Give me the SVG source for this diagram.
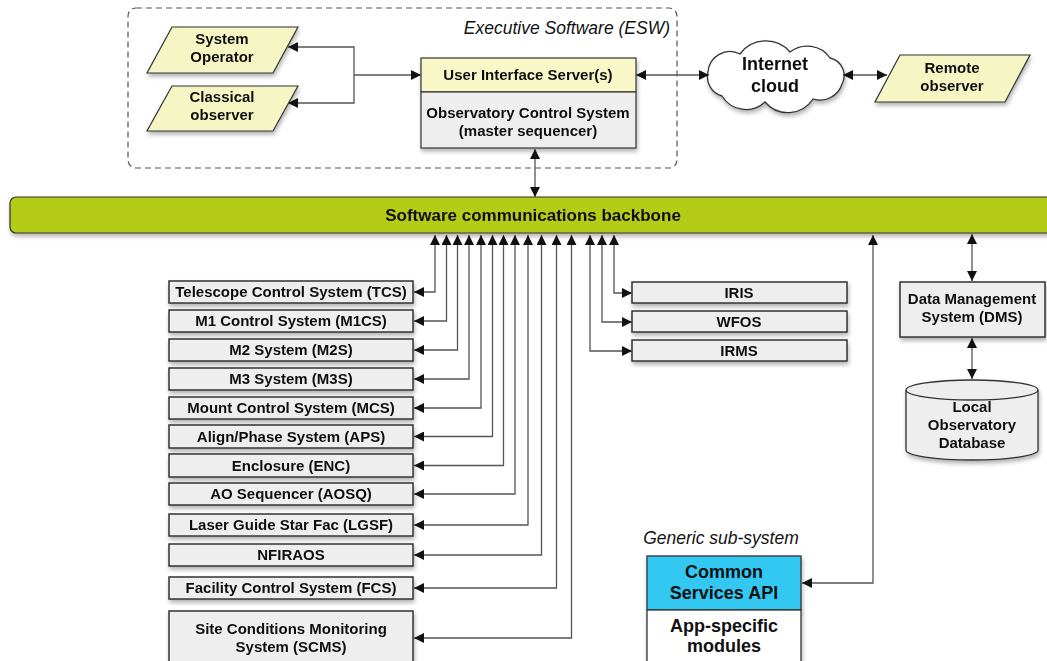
<svg xmlns="http://www.w3.org/2000/svg" width="1047" height="661" viewBox="0 0 1047 661">
<defs>
<style>
text{font-family:"Liberation Sans",Arial,sans-serif;font-weight:bold;fill:#111;text-anchor:middle}
.lbl{font-size:15px}
.big{font-size:18px}
.it{font-weight:normal;font-style:italic;font-size:17.5px}
.box{fill:#eeeeee;stroke:#333;stroke-width:1.5}
.yel{fill:#f6f6c4;stroke:#333;stroke-width:1.2}
.con{fill:none;stroke:#555;stroke-width:1.3}
</style>
<marker id="ah" viewBox="0 0 10 10" refX="10" refY="5" markerWidth="10" markerHeight="10" markerUnits="userSpaceOnUse" orient="auto-start-reverse">
<path d="M0,0 L10,5 L0,10 Z" fill="#111"/>
</marker>
<filter id="sh" x="-10%" y="-10%" width="130%" height="140%">
<feDropShadow dx="1" dy="3" stdDeviation="2" flood-color="#000" flood-opacity="0.3"/>
</filter>
</defs>
<rect width="1047" height="661" fill="#fff"/>

<g id="esw">
<rect x="128" y="8" width="549" height="160" rx="8" fill="none" stroke="#555" stroke-width="1.2" stroke-dasharray="6,4"/>
<text class="it" x="670" y="34" style="text-anchor:end">Executive Software (ESW)</text>
</g>

<g id="system-operator" filter="url(#sh)">
<polygon class="yel" points="172,27 298,27 273,73 147,73"/>
<text class="lbl" x="222" y="44">System</text>
<text class="lbl" x="222" y="62">Operator</text>
</g>
<g id="classical-observer" filter="url(#sh)">
<polygon class="yel" points="172,86 298,86 273,131 147,131"/>
<text class="lbl" x="222" y="102">Classical</text>
<text class="lbl" x="222" y="120">observer</text>
</g>

<g id="ocs" filter="url(#sh)">
<rect x="421" y="58" width="215" height="34" fill="#f7f7c8" stroke="#333" stroke-width="1.2"/>
<rect x="421" y="92" width="215" height="56" fill="#eeeeee" stroke="#333" stroke-width="1.2"/>
<text class="lbl" x="528" y="80">User Interface Server(s)</text>
<text class="lbl" x="528" y="118">Observatory Control System</text>
<text class="lbl" x="528" y="136">(master sequencer)</text>
</g>

<g id="internet-cloud" filter="url(#sh)">
<path d="M708,72 A22,22 0 0 1 740,54 A32,32 0 0 1 790,52 A28,28 0 0 1 830,58 A18,18 0 0 1 842,84 A23,23 0 0 1 813,99 A30,30 0 0 1 765,102 A28,28 0 0 1 722,96 A20,20 0 0 1 708,72 Z" fill="#fff" stroke="#333" stroke-width="1.3"/>
<text class="big" x="775" y="70">Internet</text>
<text class="big" x="775" y="92">cloud</text>
</g>

<g id="remote-observer" filter="url(#sh)">
<polygon class="yel" points="900,55 1030,55 1005,102 875,102"/>
<text class="lbl" x="952" y="73">Remote</text>
<text class="lbl" x="952" y="91">observer</text>
</g>

<g id="backbone" filter="url(#sh)">
<rect x="10" y="197" width="1050" height="36" rx="6" fill="#b5cc18" stroke="#333" stroke-width="1.2"/>
<text x="533" y="221" style="font-size:17px">Software communications backbone</text>
</g>

<g id="tcs" filter="url(#sh)"><rect class="box" x="169" y="281" width="244" height="22"/><text class="lbl" x="291" y="297">Telescope Control System (TCS)</text></g>
<g id="m1cs" filter="url(#sh)"><rect class="box" x="169" y="310" width="244" height="22"/><text class="lbl" x="291" y="326">M1 Control System (M1CS)</text></g>
<g id="m2s" filter="url(#sh)"><rect class="box" x="169" y="339" width="244" height="22"/><text class="lbl" x="291" y="355">M2 System (M2S)</text></g>
<g id="m3s" filter="url(#sh)"><rect class="box" x="169" y="368" width="244" height="22"/><text class="lbl" x="291" y="384">M3 System (M3S)</text></g>
<g id="mcs" filter="url(#sh)"><rect class="box" x="169" y="397" width="244" height="22"/><text class="lbl" x="291" y="413">Mount Control System (MCS)</text></g>
<g id="aps" filter="url(#sh)"><rect class="box" x="169" y="425" width="244" height="23"/><text class="lbl" x="291" y="442">Align/Phase System (APS)</text></g>
<g id="enc" filter="url(#sh)"><rect class="box" x="169" y="454" width="244" height="23"/><text class="lbl" x="291" y="471">Enclosure (ENC)</text></g>
<g id="aosq" filter="url(#sh)"><rect class="box" x="169" y="483" width="244" height="22"/><text class="lbl" x="291" y="499">AO Sequencer (AOSQ)</text></g>
<g id="lgsf" filter="url(#sh)"><rect class="box" x="169" y="514" width="244" height="22"/><text class="lbl" x="291" y="530">Laser Guide Star Fac (LGSF)</text></g>
<g id="nfiraos" filter="url(#sh)"><rect class="box" x="169" y="544" width="244" height="22"/><text class="lbl" x="291" y="560">NFIRAOS</text></g>
<g id="fcs" filter="url(#sh)"><rect class="box" x="169" y="577" width="244" height="22"/><text class="lbl" x="291" y="593">Facility Control System (FCS)</text></g>
<g id="scms" filter="url(#sh)"><rect class="box" x="169" y="611" width="244" height="60"/><text class="lbl" x="291" y="634">Site Conditions Monitoring</text><text class="lbl" x="291" y="652">System  (SCMS)</text></g>

<g id="iris" filter="url(#sh)"><rect class="box" x="632" y="282" width="215" height="21"/><text class="lbl" x="739" y="298">IRIS</text></g>
<g id="wfos" filter="url(#sh)"><rect class="box" x="632" y="311" width="215" height="21"/><text class="lbl" x="739" y="327">WFOS</text></g>
<g id="irms" filter="url(#sh)"><rect class="box" x="632" y="340" width="215" height="21"/><text class="lbl" x="739" y="356">IRMS</text></g>

<g id="dms" filter="url(#sh)">
<rect class="box" x="900" y="282" width="145" height="55"/>
<text class="lbl" x="972" y="304">Data Management</text>
<text class="lbl" x="972" y="322">System (DMS)</text>
</g>

<g id="database" filter="url(#sh)">
<path d="M906,390 A66,10 0 0 1 1038,390 V450 A66,10 0 0 1 906,450 Z" fill="#eeeeee" stroke="#333" stroke-width="1.3"/>
<path d="M906,390 A66,10 0 0 0 1038,390" fill="none" stroke="#333" stroke-width="1.3"/>
<text class="lbl" x="972" y="412">Local</text>
<text class="lbl" x="972" y="430">Observatory</text>
<text class="lbl" x="972" y="448">Database</text>
</g>

<g id="generic-subsystem">
<text class="it" x="721" y="544">Generic sub-system</text>
<g filter="url(#sh)">
<rect x="647" y="556" width="154" height="54" fill="#33c8f2" stroke="#333" stroke-width="1.3"/>
<rect x="647" y="610" width="154" height="60" fill="#fff" stroke="#333" stroke-width="1.3"/>
</g>
<text class="big" x="724" y="578">Common</text>
<text class="big" x="724" y="599">Services API</text>
<text class="big" x="724" y="632">App-specific</text>
<text class="big" x="724" y="652">modules</text>
</g>

<g id="connectors" class="con">
<path class="con" d="M354,75 H421" marker-end="url(#ah)"/>
<path class="con" d="M288,47 H354 V103 H288" marker-start="url(#ah)" marker-end="url(#ah)"/>
<path class="con" d="M636,75 H709" marker-start="url(#ah)" marker-end="url(#ah)"/>
<path class="con" d="M843,75 H887" marker-start="url(#ah)" marker-end="url(#ah)"/>
<path class="con" d="M535,149 V197" marker-start="url(#ah)" marker-end="url(#ah)"/>

<path class="con" d="M414,292 H435 V235" marker-start="url(#ah)" marker-end="url(#ah)"/>
<path class="con" d="M414,321 H446.5 V235" marker-start="url(#ah)" marker-end="url(#ah)"/>
<path class="con" d="M414,350 H457.5 V235" marker-start="url(#ah)" marker-end="url(#ah)"/>
<path class="con" d="M414,379 H469 V235" marker-start="url(#ah)" marker-end="url(#ah)"/>
<path class="con" d="M414,408 H481 V235" marker-start="url(#ah)" marker-end="url(#ah)"/>
<path class="con" d="M414,436.5 H492.5 V235" marker-start="url(#ah)" marker-end="url(#ah)"/>
<path class="con" d="M414,465.5 H503.5 V235" marker-start="url(#ah)" marker-end="url(#ah)"/>
<path class="con" d="M414,494 H515 V235" marker-start="url(#ah)" marker-end="url(#ah)"/>
<path class="con" d="M414,525 H528 V235" marker-start="url(#ah)" marker-end="url(#ah)"/>
<path class="con" d="M414,555 H541.5 V235" marker-start="url(#ah)" marker-end="url(#ah)"/>
<path class="con" d="M414,588 H556.5 V235" marker-start="url(#ah)" marker-end="url(#ah)"/>
<path class="con" d="M414,638 H571.5 V235" marker-start="url(#ah)" marker-end="url(#ah)"/>

<path class="con" d="M632,293 H614 V235" marker-start="url(#ah)" marker-end="url(#ah)"/>
<path class="con" d="M632,322 H602 V235" marker-start="url(#ah)" marker-end="url(#ah)"/>
<path class="con" d="M632,351 H590 V235" marker-start="url(#ah)" marker-end="url(#ah)"/>

<path class="con" d="M802,583 H873 V235" marker-start="url(#ah)" marker-end="url(#ah)"/>
<path class="con" d="M972,281 V234" marker-start="url(#ah)" marker-end="url(#ah)"/>
<path class="con" d="M972,338 V379" marker-start="url(#ah)" marker-end="url(#ah)"/>
</g>
</svg>
